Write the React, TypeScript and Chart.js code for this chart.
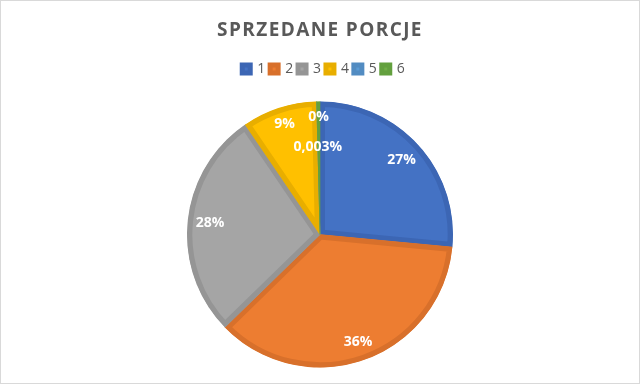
import React, { useEffect, useRef } from "react";
import { Chart, registerables } from "chart.js";

Chart.register(...registerables);

const titleText = "SPRZEDANE PORCJE";
const categories = ["1", "2", "3", "4", "5", "6"];
const values = [26.5, 36.2, 27.8, 9.1, 0.003, 0.4];
const percentLabels = ["27%", "36%", "28%", "9%", "0,003%", "0%"];
const fillColors = ["#4472C4", "#ED7D31", "#A5A5A5", "#FFC000", "#5B9BD5", "#70AD47"];
const borderColors = ["#3C66B4", "#D8702B", "#959595", "#E8AE00", "#528CC2", "#63A03E"];

const labelRadiusFrac = [0.83, 0.86, 0.83, 0.87, 0.66, 0.88];

const spacingPlugin = {
  id: "spacingPlugin",
  beforeDraw(chart: any) {
    chart.ctx.letterSpacing = "1.4px";
  },
  beforeDatasetsDraw(chart: any) {
    chart.ctx.letterSpacing = "0px";
  },
};

const labelPlugin = {
  id: "pieLabels",
  afterDatasetsDraw(chart: any) {
    const ctx = chart.ctx;
    const meta = chart.getDatasetMeta(0);
    ctx.save();
    ctx.letterSpacing = "0px";
    ctx.fillStyle = "#FFFFFF";
    ctx.font = "bold 14px 'Open Sans'";
    ctx.textAlign = "center";
    ctx.textBaseline = "middle";
    meta.data.forEach((arc: any, i: number) => {
      const { x, y, startAngle, endAngle, outerRadius } = arc.getProps(
        ["x", "y", "startAngle", "endAngle", "outerRadius"],
        true
      );
      const mid = (startAngle + endAngle) / 2;
      const r = outerRadius * labelRadiusFrac[i];
      ctx.fillText(percentLabels[i], x + Math.cos(mid) * r, y + Math.sin(mid) * r);
    });
    ctx.restore();
  },
};

export default function App() {
  const ref = useRef<HTMLCanvasElement>(null);
  useEffect(() => {
    if (!ref.current) return;
    const chart = new Chart(ref.current, {
      type: "pie",
      data: {
        labels: categories,
        datasets: [
          {
            data: values,
            backgroundColor: fillColors,
            borderColor: borderColors,
            borderWidth: 5,
            borderAlign: "inner",
            hoverOffset: 0,
            offset: 0,
            radius: 133,
          } as any,
        ],
      },
      options: {
        animation: false,
        responsive: true,
        maintainAspectRatio: false,
        layout: { padding: { top: 0, left: 0, right: 0, bottom: -7.5 } },
        plugins: {
          title: {
            display: true,
            text: titleText,
            color: "#595959",
            font: { family: "'Open Sans'", size: 19, weight: "bold" },
            padding: { top: 18, bottom: 16.7 },
          },
          legend: {
            display: true,
            position: "top",
            labels: {
              color: "#595959",
              font: { family: "'Open Sans'", size: 14 },
              boxWidth: 8,
              boxHeight: 8,
              padding: 3.5,
            },
          },
          tooltip: { enabled: false },
        },
      },
      plugins: [spacingPlugin, labelPlugin],
    });
    return () => chart.destroy();
  }, []);
  return (
    <div
      style={{
        position: "absolute",
        left: 0,
        top: 0,
        width: 640,
        height: 384,
        boxSizing: "border-box",
        border: "1px solid #D9D9D9",
        background: "#FFFFFF",
      }}
    >
      <canvas ref={ref} />
    </div>
  );
}
